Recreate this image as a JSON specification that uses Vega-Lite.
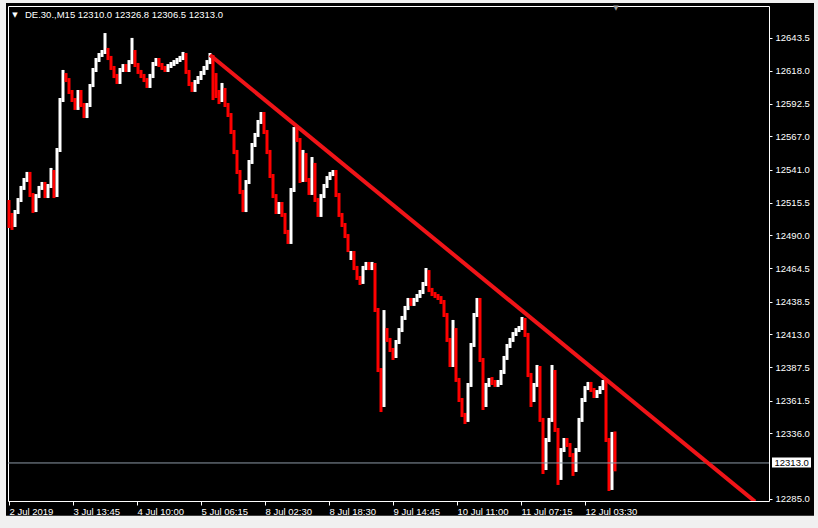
{
"$schema": "https://vega.github.io/schema/vega-lite/v6.json",
"width": 761, "height": 495,
"autosize": {"type": "none"},
"padding": {"left": 8, "top": 6, "right": 49, "bottom": 27},
"background": "#000000",
"config": {"view": {"stroke": "#ffffff", "strokeWidth": 1, "fill": "#000000"}, "font": "Liberation Sans", "axis": {"labelOverlap": false, "labelBound": false}},
"resolve": {"axis": {"x": "independent", "y": "independent"}},
"datasets": {
"bars": [
{"t":0,"o":12513.6,"h":12517.5,"l":12495.7,"c":12505.8},
{"t":3,"o":12505.8,"h":12507.4,"l":12494.2,"c":12498.0},
{"t":6,"o":12498.0,"h":12509.7,"l":12496.5,"c":12508.1},
{"t":9,"o":12508.1,"h":12519.0,"l":12506.6,"c":12517.5},
{"t":12,"o":12517.5,"h":12528.4,"l":12515.9,"c":12526.8},
{"t":15,"o":12526.8,"h":12534.6,"l":12525.3,"c":12533.0},
{"t":18,"o":12533.0,"h":12539.3,"l":12531.5,"c":12537.7},
{"t":21,"o":12537.7,"h":12539.3,"l":12519.8,"c":12521.4},
{"t":24,"o":12521.4,"h":12522.9,"l":12507.4,"c":12509.7},
{"t":27,"o":12509.7,"h":12522.1,"l":12508.1,"c":12520.6},
{"t":30,"o":12520.6,"h":12528.4,"l":12519.0,"c":12526.8},
{"t":33,"o":12526.8,"h":12531.5,"l":12525.3,"c":12529.9},
{"t":36,"o":12529.9,"h":12531.5,"l":12519.0,"c":12520.6},
{"t":39,"o":12520.6,"h":12529.9,"l":12519.0,"c":12528.4},
{"t":42,"o":12528.4,"h":12542.4,"l":12526.8,"c":12539.3},
{"t":45,"o":12539.3,"h":12540.8,"l":12519.0,"c":12521.4},
{"t":48,"o":12521.4,"h":12557.9,"l":12519.8,"c":12556.4},
{"t":51,"o":12556.4,"h":12596.8,"l":12554.8,"c":12595.2},
{"t":54,"o":12595.2,"h":12618.6,"l":12593.7,"c":12614.7},
{"t":57,"o":12614.7,"h":12616.2,"l":12609.2,"c":12610.8},
{"t":60,"o":12610.8,"h":12612.3,"l":12599.9,"c":12601.5},
{"t":63,"o":12601.5,"h":12603.0,"l":12593.7,"c":12595.2},
{"t":66,"o":12595.2,"h":12596.8,"l":12587.5,"c":12589.0},
{"t":69,"o":12589.0,"h":12603.0,"l":12587.5,"c":12601.5},
{"t":72,"o":12601.5,"h":12603.0,"l":12589.8,"c":12591.4},
{"t":75,"o":12591.4,"h":12592.9,"l":12581.2,"c":12582.8},
{"t":78,"o":12582.8,"h":12592.9,"l":12581.2,"c":12591.4},
{"t":81,"o":12591.4,"h":12607.7,"l":12589.8,"c":12606.9},
{"t":84,"o":12606.9,"h":12620.1,"l":12605.3,"c":12618.6},
{"t":87,"o":12618.6,"h":12627.9,"l":12617.0,"c":12626.3},
{"t":90,"o":12626.3,"h":12631.8,"l":12624.8,"c":12630.2},
{"t":93,"o":12630.2,"h":12634.1,"l":12628.7,"c":12632.6},
{"t":96,"o":12632.6,"h":12647.3,"l":12631.0,"c":12634.1},
{"t":99,"o":12634.1,"h":12635.7,"l":12626.3,"c":12627.9},
{"t":102,"o":12627.9,"h":12629.5,"l":12618.6,"c":12620.1},
{"t":105,"o":12620.1,"h":12621.7,"l":12612.3,"c":12613.9},
{"t":108,"o":12613.9,"h":12615.5,"l":12607.7,"c":12609.2},
{"t":111,"o":12609.2,"h":12620.1,"l":12607.7,"c":12618.6},
{"t":114,"o":12618.6,"h":12623.2,"l":12617.0,"c":12621.7},
{"t":117,"o":12621.7,"h":12623.2,"l":12617.0,"c":12618.6},
{"t":120,"o":12618.6,"h":12626.3,"l":12617.0,"c":12624.8},
{"t":123,"o":12624.8,"h":12643.5,"l":12623.2,"c":12632.6},
{"t":126,"o":12632.6,"h":12634.1,"l":12620.9,"c":12622.5},
{"t":129,"o":12622.5,"h":12624.0,"l":12615.5,"c":12617.0},
{"t":132,"o":12617.0,"h":12618.6,"l":12612.3,"c":12613.9},
{"t":135,"o":12613.9,"h":12615.5,"l":12609.2,"c":12610.8},
{"t":138,"o":12610.8,"h":12612.3,"l":12604.6,"c":12606.1},
{"t":141,"o":12606.1,"h":12615.5,"l":12604.6,"c":12613.9},
{"t":144,"o":12613.9,"h":12624.8,"l":12612.3,"c":12623.2},
{"t":147,"o":12623.2,"h":12627.9,"l":12621.7,"c":12626.3},
{"t":150,"o":12626.3,"h":12627.9,"l":12620.9,"c":12622.5},
{"t":153,"o":12622.5,"h":12624.0,"l":12618.6,"c":12620.1},
{"t":156,"o":12620.1,"h":12621.7,"l":12617.0,"c":12618.6},
{"t":159,"o":12618.6,"h":12623.2,"l":12617.0,"c":12621.7},
{"t":162,"o":12621.7,"h":12624.8,"l":12620.1,"c":12623.2},
{"t":165,"o":12623.2,"h":12626.3,"l":12621.7,"c":12624.8},
{"t":168,"o":12624.8,"h":12627.9,"l":12623.2,"c":12626.3},
{"t":171,"o":12626.3,"h":12629.5,"l":12624.8,"c":12627.9},
{"t":174,"o":12627.9,"h":12632.6,"l":12626.3,"c":12630.2},
{"t":177,"o":12630.2,"h":12631.8,"l":12615.5,"c":12617.0},
{"t":180,"o":12617.0,"h":12618.6,"l":12606.1,"c":12607.7},
{"t":183,"o":12607.7,"h":12609.2,"l":12601.5,"c":12603.0},
{"t":186,"o":12603.0,"h":12610.8,"l":12601.5,"c":12609.2},
{"t":189,"o":12609.2,"h":12613.9,"l":12607.7,"c":12612.3},
{"t":192,"o":12612.3,"h":12617.8,"l":12610.8,"c":12616.2},
{"t":195,"o":12616.2,"h":12621.7,"l":12614.7,"c":12620.1},
{"t":198,"o":12620.1,"h":12626.3,"l":12618.6,"c":12624.8},
{"t":201,"o":12624.8,"h":12631.8,"l":12623.2,"c":12630.2},
{"t":204,"o":12630.2,"h":12630.2,"l":12595.2,"c":12614.7},
{"t":207,"o":12614.7,"h":12616.2,"l":12596.8,"c":12601.5},
{"t":210,"o":12601.5,"h":12603.0,"l":12592.1,"c":12595.2},
{"t":213,"o":12595.2,"h":12608.5,"l":12593.7,"c":12603.0},
{"t":216,"o":12603.0,"h":12604.6,"l":12589.8,"c":12591.4},
{"t":219,"o":12591.4,"h":12592.9,"l":12582.0,"c":12583.6},
{"t":222,"o":12583.6,"h":12585.1,"l":12568.8,"c":12570.4},
{"t":225,"o":12570.4,"h":12571.9,"l":12553.2,"c":12554.8},
{"t":228,"o":12554.8,"h":12556.4,"l":12537.7,"c":12539.3},
{"t":231,"o":12539.3,"h":12540.8,"l":12522.1,"c":12523.7},
{"t":234,"o":12523.7,"h":12525.3,"l":12508.1,"c":12509.7},
{"t":237,"o":12509.7,"h":12533.0,"l":12508.1,"c":12531.5},
{"t":240,"o":12531.5,"h":12548.6,"l":12529.9,"c":12547.0},
{"t":243,"o":12547.0,"h":12561.8,"l":12545.5,"c":12560.2},
{"t":246,"o":12560.2,"h":12569.6,"l":12558.7,"c":12568.0},
{"t":249,"o":12568.0,"h":12579.7,"l":12566.5,"c":12578.1},
{"t":252,"o":12578.1,"h":12585.9,"l":12576.6,"c":12584.4},
{"t":255,"o":12584.4,"h":12585.9,"l":12568.8,"c":12570.4},
{"t":258,"o":12570.4,"h":12571.9,"l":12553.2,"c":12554.8},
{"t":261,"o":12554.8,"h":12556.4,"l":12534.6,"c":12536.1},
{"t":264,"o":12536.1,"h":12537.7,"l":12519.0,"c":12520.6},
{"t":267,"o":12520.6,"h":12522.1,"l":12506.6,"c":12508.1},
{"t":270,"o":12508.1,"h":12515.9,"l":12506.6,"c":12514.4},
{"t":273,"o":12514.4,"h":12515.9,"l":12504.3,"c":12505.8},
{"t":276,"o":12505.8,"h":12507.4,"l":12491.0,"c":12492.6},
{"t":279,"o":12492.6,"h":12494.2,"l":12483.3,"c":12484.8},
{"t":282,"o":12484.8,"h":12526.8,"l":12483.3,"c":12525.3},
{"t":285,"o":12525.3,"h":12574.2,"l":12523.7,"c":12571.9},
{"t":288,"o":12571.9,"h":12573.5,"l":12562.6,"c":12564.1},
{"t":291,"o":12564.1,"h":12565.7,"l":12530.7,"c":12533.0},
{"t":294,"o":12533.0,"h":12556.4,"l":12531.5,"c":12552.5},
{"t":297,"o":12552.5,"h":12554.0,"l":12531.5,"c":12533.0},
{"t":300,"o":12533.0,"h":12534.6,"l":12521.4,"c":12522.9},
{"t":303,"o":12522.9,"h":12550.9,"l":12521.4,"c":12544.7},
{"t":306,"o":12544.7,"h":12546.3,"l":12515.9,"c":12517.5},
{"t":309,"o":12517.5,"h":12519.0,"l":12504.3,"c":12505.8},
{"t":312,"o":12505.8,"h":12522.1,"l":12504.3,"c":12520.6},
{"t":315,"o":12520.6,"h":12529.9,"l":12519.0,"c":12528.4},
{"t":318,"o":12528.4,"h":12536.1,"l":12526.8,"c":12534.6},
{"t":321,"o":12534.6,"h":12539.3,"l":12533.0,"c":12537.7},
{"t":324,"o":12537.7,"h":12540.8,"l":12536.1,"c":12539.3},
{"t":327,"o":12539.3,"h":12540.8,"l":12519.8,"c":12521.4},
{"t":330,"o":12521.4,"h":12522.9,"l":12504.3,"c":12505.8},
{"t":333,"o":12505.8,"h":12507.4,"l":12496.5,"c":12498.0},
{"t":336,"o":12498.0,"h":12499.6,"l":12487.9,"c":12489.5},
{"t":339,"o":12489.5,"h":12491.0,"l":12477.0,"c":12478.6},
{"t":342,"o":12472.4,"h":12477.8,"l":12470.8,"c":12476.3},
{"t":345,"o":12476.3,"h":12477.8,"l":12463.0,"c":12464.6},
{"t":348,"o":12464.6,"h":12466.2,"l":12455.3,"c":12456.8},
{"t":351,"o":12456.8,"h":12458.4,"l":12451.4,"c":12453.7},
{"t":354,"o":12453.7,"h":12466.2,"l":12452.2,"c":12464.6},
{"t":357,"o":12464.6,"h":12469.3,"l":12463.0,"c":12467.7},
{"t":360,"o":12467.7,"h":12469.3,"l":12463.0,"c":12464.6},
{"t":363,"o":12464.6,"h":12469.3,"l":12463.0,"c":12466.9},
{"t":366,"o":12466.9,"h":12468.5,"l":12430.4,"c":12431.9},
{"t":369,"o":12431.9,"h":12433.5,"l":12383.7,"c":12385.3},
{"t":372,"o":12385.3,"h":12386.8,"l":12352.6,"c":12358.1},
{"t":375,"o":12358.1,"h":12431.9,"l":12356.5,"c":12416.4},
{"t":378,"o":12416.4,"h":12417.9,"l":12407.1,"c":12408.6},
{"t":381,"o":12408.6,"h":12410.2,"l":12399.3,"c":12400.8},
{"t":384,"o":12400.8,"h":12402.4,"l":12393.1,"c":12396.2},
{"t":387,"o":12396.2,"h":12408.6,"l":12394.6,"c":12407.1},
{"t":390,"o":12407.1,"h":12417.9,"l":12405.5,"c":12416.4},
{"t":393,"o":12416.4,"h":12427.3,"l":12414.8,"c":12425.7},
{"t":396,"o":12425.7,"h":12435.1,"l":12424.2,"c":12433.5},
{"t":399,"o":12433.5,"h":12441.3,"l":12431.9,"c":12439.7},
{"t":402,"o":12439.7,"h":12441.3,"l":12435.1,"c":12436.6},
{"t":405,"o":12436.6,"h":12441.3,"l":12435.1,"c":12439.7},
{"t":408,"o":12439.7,"h":12444.4,"l":12438.2,"c":12442.8},
{"t":411,"o":12442.8,"h":12447.5,"l":12441.3,"c":12445.9},
{"t":414,"o":12445.9,"h":12453.7,"l":12444.4,"c":12452.2},
{"t":417,"o":12452.2,"h":12464.6,"l":12450.6,"c":12461.5},
{"t":420,"o":12461.5,"h":12463.0,"l":12445.9,"c":12447.5},
{"t":423,"o":12447.5,"h":12449.1,"l":12442.8,"c":12444.4},
{"t":426,"o":12444.4,"h":12445.9,"l":12441.3,"c":12442.8},
{"t":429,"o":12442.8,"h":12444.4,"l":12439.7,"c":12441.3},
{"t":432,"o":12441.3,"h":12442.8,"l":12436.6,"c":12438.2},
{"t":435,"o":12438.2,"h":12439.7,"l":12426.5,"c":12428.1},
{"t":438,"o":12428.1,"h":12429.6,"l":12407.1,"c":12408.6},
{"t":441,"o":12408.6,"h":12410.2,"l":12387.6,"c":12389.2},
{"t":444,"o":12389.2,"h":12424.2,"l":12387.6,"c":12416.4},
{"t":447,"o":12416.4,"h":12417.9,"l":12376.0,"c":12377.5},
{"t":450,"o":12377.5,"h":12379.1,"l":12360.4,"c":12362.0},
{"t":453,"o":12362.0,"h":12363.5,"l":12348.7,"c":12350.3},
{"t":456,"o":12350.3,"h":12351.9,"l":12343.3,"c":12346.4},
{"t":459,"o":12346.4,"h":12375.2,"l":12344.9,"c":12373.6},
{"t":462,"o":12373.6,"h":12406.3,"l":12372.1,"c":12404.7},
{"t":465,"o":12404.7,"h":12429.6,"l":12403.2,"c":12428.1},
{"t":468,"o":12428.1,"h":12441.3,"l":12426.5,"c":12439.7},
{"t":471,"o":12439.7,"h":12441.3,"l":12391.5,"c":12393.1},
{"t":474,"o":12393.1,"h":12394.6,"l":12354.2,"c":12358.1},
{"t":477,"o":12358.1,"h":12375.2,"l":12356.5,"c":12373.6},
{"t":480,"o":12373.6,"h":12379.1,"l":12372.1,"c":12377.5},
{"t":483,"o":12377.5,"h":12379.8,"l":12373.6,"c":12376.0},
{"t":486,"o":12376.0,"h":12377.5,"l":12372.1,"c":12373.6},
{"t":489,"o":12373.6,"h":12377.5,"l":12372.1,"c":12375.2},
{"t":492,"o":12375.2,"h":12385.3,"l":12373.6,"c":12383.7},
{"t":495,"o":12383.7,"h":12396.2,"l":12382.2,"c":12394.6},
{"t":498,"o":12394.6,"h":12405.5,"l":12393.1,"c":12404.0},
{"t":501,"o":12404.0,"h":12410.2,"l":12402.4,"c":12408.6},
{"t":504,"o":12408.6,"h":12414.8,"l":12407.1,"c":12413.3},
{"t":507,"o":12413.3,"h":12417.9,"l":12411.7,"c":12416.4},
{"t":510,"o":12416.4,"h":12419.5,"l":12414.8,"c":12417.9},
{"t":513,"o":12417.9,"h":12426.5,"l":12416.4,"c":12424.2},
{"t":516,"o":12424.2,"h":12425.7,"l":12411.0,"c":12412.5},
{"t":519,"o":12412.5,"h":12414.1,"l":12379.8,"c":12381.4},
{"t":522,"o":12381.4,"h":12383.0,"l":12356.5,"c":12362.0},
{"t":525,"o":12362.0,"h":12375.2,"l":12360.4,"c":12373.6},
{"t":528,"o":12373.6,"h":12389.2,"l":12372.1,"c":12386.8},
{"t":531,"o":12386.8,"h":12388.4,"l":12344.9,"c":12346.4},
{"t":534,"o":12346.4,"h":12348.0,"l":12304.4,"c":12309.1},
{"t":537,"o":12309.1,"h":12332.4,"l":12307.5,"c":12330.9},
{"t":540,"o":12330.9,"h":12348.0,"l":12329.3,"c":12346.4},
{"t":543,"o":12346.4,"h":12389.2,"l":12344.9,"c":12383.7},
{"t":546,"o":12383.7,"h":12385.3,"l":12337.1,"c":12338.6},
{"t":549,"o":12338.6,"h":12340.2,"l":12295.9,"c":12301.3},
{"t":552,"o":12301.3,"h":12324.6,"l":12299.8,"c":12323.1},
{"t":555,"o":12323.1,"h":12332.4,"l":12321.5,"c":12330.9},
{"t":558,"o":12330.9,"h":12332.4,"l":12325.4,"c":12327.0},
{"t":561,"o":12327.0,"h":12328.5,"l":12317.6,"c":12319.2},
{"t":564,"o":12319.2,"h":12320.7,"l":12302.9,"c":12307.5},
{"t":567,"o":12307.5,"h":12324.6,"l":12306.0,"c":12323.1},
{"t":570,"o":12323.1,"h":12348.0,"l":12321.5,"c":12346.4},
{"t":573,"o":12346.4,"h":12363.5,"l":12344.9,"c":12362.0},
{"t":576,"o":12362.0,"h":12372.8,"l":12360.4,"c":12371.3},
{"t":579,"o":12371.3,"h":12376.0,"l":12369.7,"c":12374.4},
{"t":582,"o":12374.4,"h":12376.0,"l":12368.2,"c":12369.7},
{"t":585,"o":12369.7,"h":12371.3,"l":12363.5,"c":12365.1},
{"t":588,"o":12365.1,"h":12369.7,"l":12363.5,"c":12368.2},
{"t":591,"o":12368.2,"h":12372.8,"l":12366.6,"c":12371.3},
{"t":594,"o":12371.3,"h":12377.5,"l":12369.7,"c":12376.0},
{"t":597,"o":12376.0,"h":12377.5,"l":12329.3,"c":12330.9},
{"t":600,"o":12330.9,"h":12332.4,"l":12291.2,"c":12293.5},
{"t":603,"o":12293.5,"h":12337.1,"l":12292.0,"c":12333.9},
{"t":606,"o":12333.9,"h":12337.5,"l":12306.5,"c":12313.0}
],
"trend": [{"t":201,"p":12630.2},{"t":746,"p":12283.0}],
"last": [{"p":12313.0,"label":"12313.0"}],
"head": [{"label":"DE.30.,M15  12310.0 12326.8 12306.5 12313.0"}]
},
"layer": [
{
"data": {"name": "bars"},
"mark": {"type": "rule", "strokeWidth": 3},
"encoding": {
"x": {"field": "t", "type": "quantitative",
 "scale": {"domain": [-1, 760], "nice": false, "zero": false},
 "axis": {"values": [0,64,128,192,256,320,384,448,512,576],
  "labelExpr": "['2 Jul 2019','3 Jul 13:45','4 Jul 10:00','5 Jul 06:15','8 Jul 02:30','8 Jul 18:30','9 Jul 14:45','10 Jul 11:00','11 Jul 07:15','12 Jul 03:30'][round(datum.value/64)]",
  "title": null, "grid": false, "domain": false, "tickSize": 4, "tickColor": "#ffffff",
  "labelColor": "#ffffff", "labelFont": "Liberation Sans", "labelFontSize": 9.5,
  "labelAlign": "left", "labelBaseline": "top", "labelPadding": 1, "labelFlush": false,
  "labelOverlap": false, "zindex": 1}},
"y": {"field": "l", "type": "quantitative",
 "scale": {"domain": [12283.42, 12668.33], "nice": false, "zero": false},
 "axis": {"orient": "right", "values": [12643.5,12618.0,12592.5,12567.0,12541.0,12515.5,12490.0,12464.5,12438.5,12413.0,12387.5,12361.5,12336.0,12285.0],
  "format": ".1f", "title": null, "grid": false, "domain": false, "tickSize": 3, "tickColor": "#ffffff",
  "labelColor": "#ffffff", "labelFont": "Liberation Sans", "labelFontSize": 9.5, "labelPadding": 3,
  "labelBaseline": "middle", "labelOverlap": false, "labelSeparation": 0, "zindex": 1}},
"y2": {"field": "h"},
"color": {"condition": {"test": "datum.c >= datum.o", "value": "#ffffff"}, "value": "#ff0000"}
}
},
{
"data": {"name": "last"},
"mark": {"type": "rule", "color": "#8b98a5", "strokeWidth": 1},
"encoding": {"y": {"field": "p", "type": "quantitative", "axis": null}}
},
{
"data": {"name": "trend"},
"mark": {"type": "line", "color": "#f01418", "strokeWidth": 4, "clip": true},
"encoding": {"x": {"field": "t", "type": "quantitative", "axis": null}, "y": {"field": "p", "type": "quantitative", "axis": null}}
},
{
"data": {"values": [{}]},
"mark": {"type": "rect", "color": "#ffffff"},
"encoding": {"x": {"datum": 763, "axis": null}, "x2": {"datum": 802}, "y": {"datum": 12317.2, "axis": null}, "y2": {"datum": 12309.4}}
},
{
"data": {"name": "last"},
"mark": {"type": "text", "align": "left", "baseline": "middle", "fontSize": 9.5, "color": "#000000", "font": "Liberation Sans"},
"encoding": {"x": {"datum": 765.5, "axis": null}, "y": {"field": "p", "type": "quantitative", "axis": null}, "text": {"field": "label"}}
},
{
"data": {"name": "head"},
"mark": {"type": "text", "align": "left", "baseline": "middle", "fontSize": 9.5, "color": "#ffffff", "font": "Liberation Sans"},
"encoding": {"x": {"datum": 16, "axis": null}, "y": {"datum": 12661.3, "axis": null}, "text": {"field": "label"}}
},
{
"data": {"values": [{"s": "▼"}]},
"mark": {"type": "text", "align": "center", "baseline": "middle", "fontSize": 7, "color": "#ffffff", "font": "DejaVu Sans"},
"encoding": {"x": {"datum": 6, "axis": null}, "y": {"datum": 12661.6, "axis": null}, "text": {"field": "s"}}
},
{
"data": {"values": [{"s": "▼"}]},
"mark": {"type": "text", "align": "center", "baseline": "middle", "fontSize": 7, "color": "#9a9a9a", "font": "DejaVu Sans"},
"encoding": {"x": {"datum": 607, "axis": null}, "y": {"datum": 12666.4, "axis": null}, "text": {"field": "s"}}
},
{
"data": {"values": [{}]},
"mark": {"type": "rect", "color": "#f0f0f0"},
"encoding": {"x": {"datum": -9, "axis": null}, "x2": {"datum": -3}, "y": {"datum": 12673.0, "axis": null}, "y2": {"datum": 12262.4}}
},
{
"data": {"values": [{}]},
"mark": {"type": "rect", "color": "#f0f0f0"},
"encoding": {"x": {"datum": -9, "axis": null}, "x2": {"datum": 809}, "y": {"datum": 12673.0, "axis": null}, "y2": {"datum": 12670.7}}
},
{
"data": {"values": [{}]},
"mark": {"type": "rect", "color": "#f0f0f0"},
"encoding": {"x": {"datum": 805, "axis": null}, "x2": {"datum": 809}, "y": {"datum": 12673.0, "axis": null}, "y2": {"datum": 12262.4}}
},
{
"data": {"values": [{}]},
"mark": {"type": "rect", "color": "#f0f0f0"},
"encoding": {"x": {"datum": -9, "axis": null}, "x2": {"datum": 809}, "y": {"datum": 12272.0, "axis": null}, "y2": {"datum": 12262.4}}
}
]
}
